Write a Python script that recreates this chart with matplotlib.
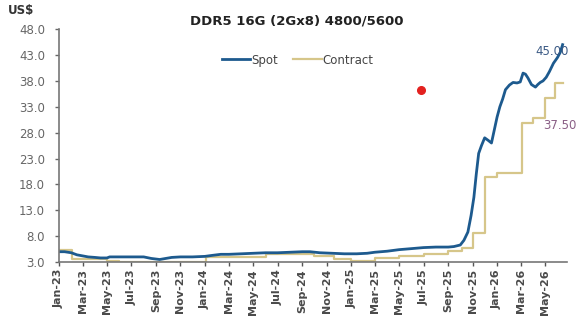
import pandas as pd
import matplotlib
matplotlib.use("Agg")
import matplotlib.pyplot as plt
import matplotlib.dates as mdates

plt.rcParams['font.family'] = ['Liberation Sans Narrow', 'DejaVu Sans']

# spot price, US$
spot_dates = ["2023-01-01", "2023-01-15", "2023-02-01", "2023-02-15", "2023-03-01", "2023-03-15",
              "2023-04-01", "2023-04-15", "2023-05-01", "2023-05-08", "2023-06-01", "2023-07-01",
              "2023-08-01", "2023-08-20", "2023-09-10", "2023-09-25", "2023-10-10", "2023-11-01",
              "2023-12-01", "2024-01-01", "2024-01-20", "2024-02-10", "2024-03-01", "2024-04-01",
              "2024-05-01", "2024-06-01", "2024-07-01", "2024-08-01", "2024-09-01", "2024-09-20",
              "2024-10-15", "2024-11-15", "2024-12-15", "2025-01-15", "2025-02-10", "2025-03-01",
              "2025-04-01", "2025-05-01", "2025-06-01", "2025-07-01", "2025-08-01", "2025-09-01",
              "2025-09-15", "2025-10-01", "2025-10-10", "2025-10-20", "2025-10-28", "2025-11-04",
              "2025-11-10", "2025-11-16", "2025-11-23", "2025-12-01", "2025-12-10", "2025-12-18",
              "2025-12-25", "2026-01-01", "2026-01-08", "2026-01-15", "2026-01-22", "2026-02-01",
              "2026-02-10", "2026-02-20", "2026-02-28", "2026-03-07", "2026-03-13", "2026-03-19",
              "2026-03-28", "2026-04-07", "2026-04-13", "2026-04-19", "2026-04-26", "2026-05-04",
              "2026-05-12", "2026-05-22", "2026-06-01", "2026-06-08", "2026-06-14"]
spot_values = [5.0, 5.0, 4.8, 4.4, 4.2, 4.0,
               3.9, 3.8, 3.8, 4.0, 4.0, 4.0,
               4.0, 3.7, 3.5, 3.7, 3.9, 4.0,
               4.0, 4.1, 4.3, 4.5, 4.5, 4.6,
               4.7, 4.8, 4.8, 4.9, 5.0, 5.0,
               4.8, 4.7, 4.6, 4.6, 4.7, 4.9,
               5.1, 5.4, 5.6, 5.8, 5.9, 5.9,
               6.0, 6.3, 7.2, 8.8, 12.0, 15.5,
               20.0, 24.0, 25.5, 27.0, 26.5, 26.0,
               28.5, 31.0, 33.0, 34.5, 36.3, 37.2,
               37.7, 37.6, 37.8, 39.5, 39.3, 38.6,
               37.3, 36.8, 37.3, 37.7, 38.0, 38.7,
               39.8, 41.4, 42.5, 43.5, 45.0]

# contract price, US$ (step changes)
contract_dates = ["2023-01-01", "2023-02-03", "2023-05-01", "2023-06-01", "2024-01-05", "2024-06-01",
                  "2024-10-01", "2024-11-20", "2025-01-01", "2025-03-01", "2025-05-01", "2025-07-01",
                  "2025-09-01", "2025-10-05", "2025-11-01", "2025-12-03", "2026-01-01", "2026-03-05",
                  "2026-04-01", "2026-05-01", "2026-05-25", "2026-06-14"]
contract_values = [5.3, 3.5, 3.2, 3.0, 4.0, 4.5,
                   4.1, 3.5, 3.3, 3.8, 4.2, 4.6,
                   5.1, 5.8, 8.6, 19.4, 20.2, 29.8,
                   30.8, 34.7, 37.5, 37.5]

yticks = [3.0, 8.0, 13.0, 18.0, 23.0, 28.0, 33.0, 38.0, 43.0, 48.0]

spot_x = pd.to_datetime(spot_dates)
contract_x = pd.to_datetime(contract_dates)

fig = plt.figure(figsize=(5.78, 3.2), dpi=100)
ax = fig.add_axes([0.102, 0.181, 0.879, 0.728])

ax.step(contract_x, contract_values, where="post", color="#d6c68a", lw=1.6, label="Contract")
ax.plot(spot_x, spot_values, color="#1d5a8e", lw=2.0, label="Spot")

ax.set_ylim(3, 48)
ax.set_yticks(yticks)
ax.set_yticklabels([f"{v:.1f}" for v in yticks])
ax.set_xlim(pd.Timestamp("2023-01-01"), pd.Timestamp("2026-06-25"))
ax.xaxis.set_major_locator(mdates.MonthLocator(bymonth=[1, 3, 5, 7, 9, 11]))
ax.xaxis.set_major_formatter(mdates.DateFormatter("%b-%y"))
ax.tick_params(axis="x", rotation=90, labelsize=8, colors="#555555", length=3, width=1, pad=2)
ax.tick_params(axis="y", labelsize=8.5, colors="#666666", length=3, width=1, pad=7)
for lbl in ax.get_xticklabels():
    lbl.set_fontweight("bold")
    lbl.set_color("#4a4a4a")

for s in ["top", "right"]:
    ax.spines[s].set_visible(False)
for s in ["left", "bottom"]:
    ax.spines[s].set_color("#777777")
    ax.spines[s].set_linewidth(1.2)

# end-of-series value labels
ax.text(1.004, 0.903, f"{spot_values[-1]:.2f}", color="#3b5a85", fontsize=8.5,
        ha="right", va="center", transform=ax.transAxes)
ax.text(1.018, 0.588, f"{contract_values[-1]:.2f}", color="#8a5f86", fontsize=8.5,
        ha="right", va="center", transform=ax.transAxes, clip_on=False)

# red marker dot on the original slide
ax.plot([0.713], [0.738], "o", color="#e3211f", ms=5.5, transform=ax.transAxes)

handles, labels = ax.get_legend_handles_labels()
ax.legend(handles[::-1], labels[::-1], loc="center", bbox_to_anchor=(0.47, 0.867), ncol=2,
          frameon=False, fontsize=8.5, handlelength=2.4, columnspacing=1.3, handletextpad=0.1,
          labelcolor="#444444")

fig.text(0.513, 0.935, "DDR5 16G (2Gx8) 4800/5600", ha="center", va="center",
         fontsize=9.5, fontweight="bold", color="#222222")
fig.text(0.014, 0.968, "US$", ha="left", va="center", fontsize=8.5, fontweight="bold", color="#333333")

fig.savefig("out.png", dpi=100)
